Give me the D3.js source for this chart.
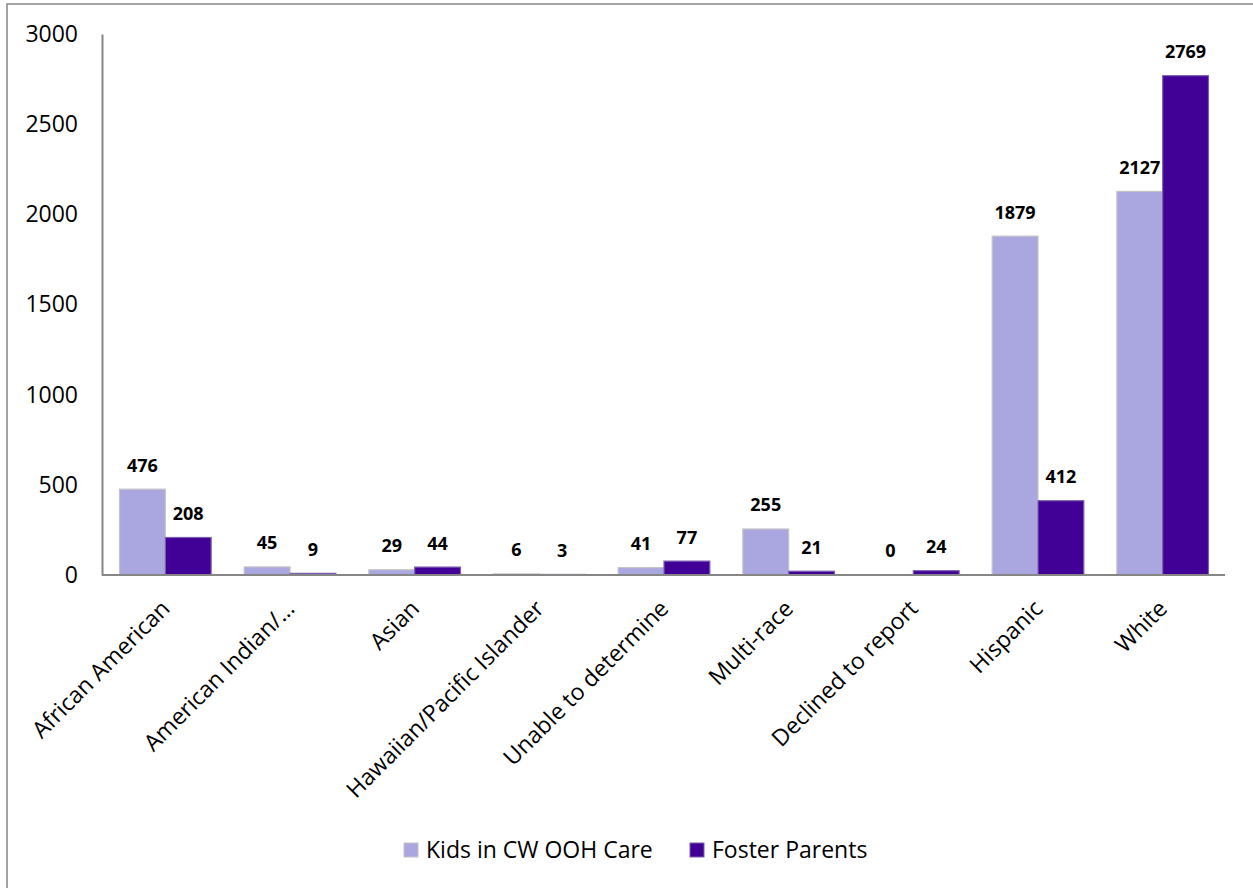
<!DOCTYPE html>
<html>
<head>
<meta charset="utf-8">
<script src="https://cdn.jsdelivr.net/npm/d3@7"></script>
<style>
  html, body { margin: 0; padding: 0; background: #fff; }
  svg { display: block; font-family: "Open Sans", "Liberation Sans", sans-serif; }
</style>
</head>
<body>
<svg id="chart" width="1253" height="888"></svg>
<script>
// Race / ethnicity categories along the x axis
const categories = [
  "African American", "American Indian/\u2026", "Asian", "Hawaiian/Pacific Islander",
  "Unable to determine", "Multi-race", "Declined to report", "Hispanic", "White"
];
// Series values, one per category
const kidsInCare    = [476, 45, 29, 6, 41, 255, 0, 1879, 2127];
const fosterParents = [208, 9, 44, 3, 77, 21, 24, 412, 2769];
const seriesNames   = ["Kids in CW OOH Care", "Foster Parents"];
const yTicks        = [0, 500, 1000, 1500, 2000, 2500, 3000];

const colors = { fill: ["#aaa6df", "#410096"], stroke: ["#c4c4c8", "#7a5fb0"] };

const svg = d3.select("#chart");
const W = 1253, H = 888;
const plot = { left: 103, right: 1225, top: 34, bottom: 575 };

// outer chart frame
svg.append("rect")
  .attr("x", 7).attr("y", 4)
  .attr("width", W).attr("height", H)
  .attr("fill", "none").attr("stroke", "#878787").attr("stroke-width", 1.5);

const x0 = d3.scaleBand()
  .domain(categories)
  .range([plot.left, plot.right])
  .paddingInner(0.265).paddingOuter(0.1325);

const x1 = d3.scaleBand()
  .domain(seriesNames)
  .range([0, x0.bandwidth()]);

const y = d3.scaleLinear().domain([0, 3000]).range([plot.bottom, plot.top]);

// y axis tick labels (no tick marks)
const yAxis = d3.axisLeft(y).tickValues(yTicks).tickSize(0).tickPadding(24).tickFormat(d3.format("d"));
const yg = svg.append("g").attr("transform", `translate(${plot.left - 1},0)`).call(yAxis);
yg.select(".domain").attr("stroke", "#868686").attr("stroke-width", 2);
yg.selectAll("text").attr("font-size", 23).attr("fill", "#000")
  .attr("font-family", "'Open Sans', sans-serif");

const rows = categories.map((c, i) => ({ cat: c, vals: [kidsInCare[i], fosterParents[i]] }));

const groups = svg.append("g").selectAll("g")
  .data(rows).join("g")
  .attr("transform", d => `translate(${x0(d.cat)},0)`);

groups.selectAll("rect")
  .data(d => d.vals.map((v, k) => ({ v, k })))
  .join("rect")
  .attr("x", d => x1(seriesNames[d.k]))
  .attr("y", d => y(d.v))
  .attr("width", x1.bandwidth())
  .attr("height", d => y(0) - y(d.v))
  .attr("fill", d => colors.fill[d.k])
  .attr("stroke", d => colors.stroke[d.k])
  .attr("stroke-width", 1.2);

// value labels above each bar
groups.selectAll("text.val")
  .data(d => d.vals.map((v, k) => ({ v, k })))
  .join("text")
  .attr("class", "val")
  .attr("x", d => x1(seriesNames[d.k]) + x1.bandwidth() / 2)
  .attr("y", d => y(d.v) - 24)
  .attr("dy", "0.36em")
  .attr("text-anchor", "middle")
  .attr("font-size", 18)
  .attr("font-weight", "bold")
  .attr("fill", "#000")
  .text(d => d.v);

// x axis baseline
svg.append("line")
  .attr("x1", plot.left - 1).attr("x2", plot.right)
  .attr("y1", y(0)).attr("y2", y(0))
  .attr("stroke", "#868686").attr("stroke-width", 2);

// rotated category labels
svg.append("g").selectAll("text")
  .data(categories).join("text")
  .attr("transform", d => `translate(${x0(d) + x0.bandwidth() / 2 + 6},${plot.bottom + 35}) rotate(-45)`)
  .attr("text-anchor", "end")
  .attr("font-size", 23)
  .attr("fill", "#000")
  .text(d => d);

// legend
const legend = svg.append("g");
const legendX = [404, 690];
seriesNames.forEach((name, k) => {
  legend.append("rect")
    .attr("x", legendX[k]).attr("y", 843)
    .attr("width", 14).attr("height", 14)
    .attr("fill", colors.fill[k]).attr("stroke", colors.stroke[k]).attr("stroke-width", 1);
  legend.append("text")
    .attr("x", legendX[k] + 22).attr("y", 850)
    .attr("dy", "0.36em")
    .attr("font-size", 23)
    .attr("fill", "#000")
    .text(name);
});
</script>
</body>
</html>
